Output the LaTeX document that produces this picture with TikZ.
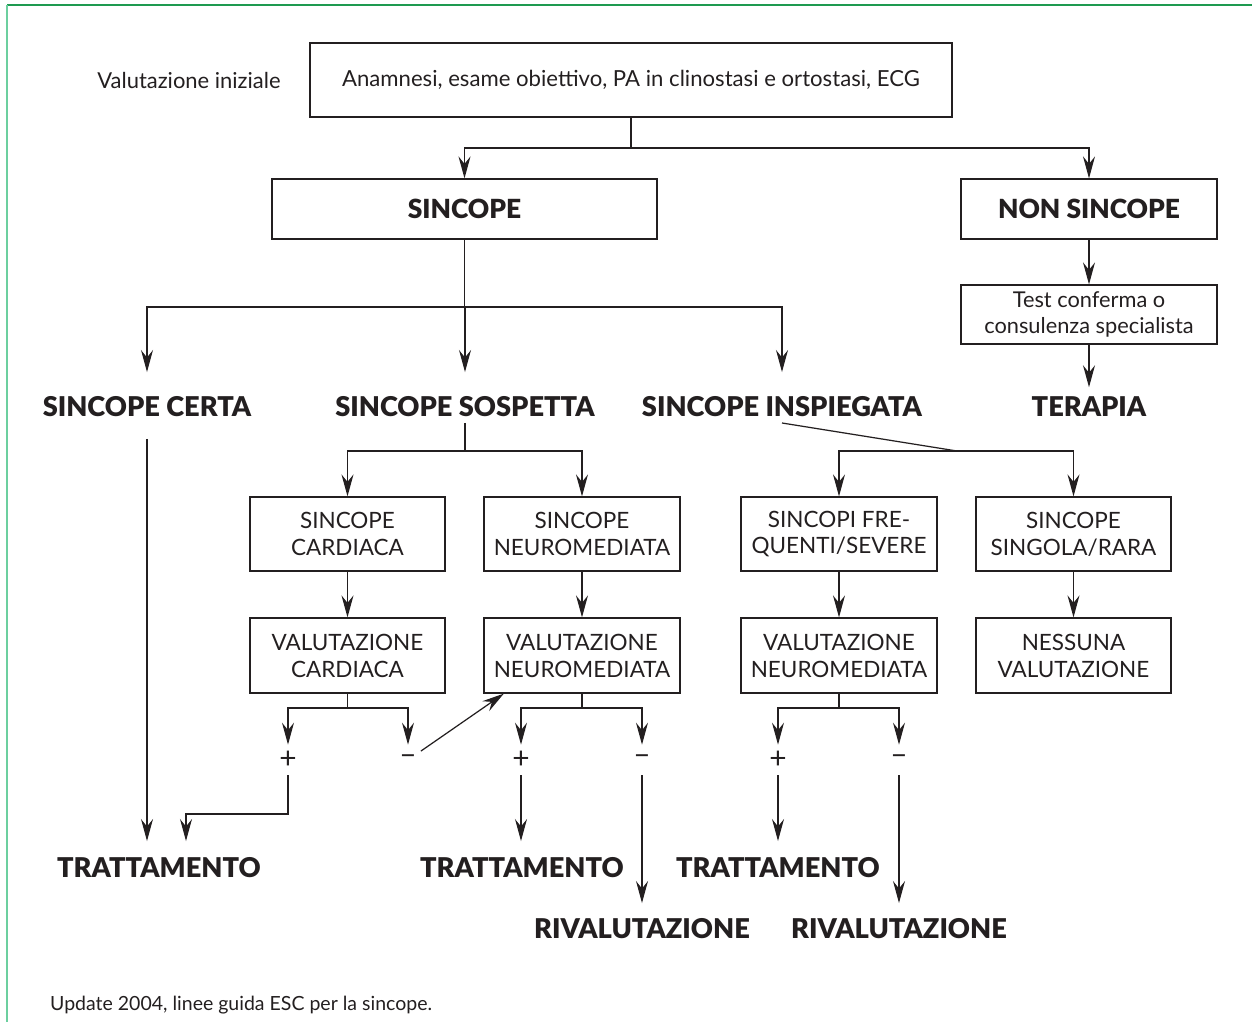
\documentclass[tikz,border=0pt]{standalone}
\usepackage{fontspec}
\setmainfont{Lato}[BoldFont={Lato Black}]
\definecolor{VerdeBordoESC}{HTML}{1E9A50}
\definecolor{VerdeChiaroESC}{HTML}{6CCF9F}
\definecolor{NeroESC}{HTML}{231F20}
\usetikzlibrary{arrows.meta}
\usetikzlibrary{positioning}
\tikzset{
	blocco/.style={draw=NeroESC, line width=0.7pt, align=center, inner sep=0pt, font=\fontsize{12.8}{15.3}\selectfont},
	bloccotitolo/.style={blocco, font=\fontsize{15}{17}\selectfont\bfseries},
	titolo/.style={inner xsep=0pt, inner ysep=0.11cm, font=\fontsize{15.5}{17}\selectfont\bfseries},
	segno/.style={inner sep=0pt, minimum width=0.5cm, minimum height=0.6cm, font=\fontsize{17}{19}\selectfont},
	linea/.style={line width=0.7pt, draw=NeroESC},
	freccia/.style={linea, -{Stealth[length=4.4mm,width=2.4mm,inset=1.5mm]}}
}
\begin{document}
\begin{tikzpicture}[x=0.02cm, y=-0.02cm, color=NeroESC]
	\useasboundingbox (0,0) rectangle (1252,1022);
	% cornice
	\draw[VerdeBordoESC, line width=1.1pt] (7,5) -- (1252,5);
	\draw[VerdeChiaroESC, line width=1.1pt] (7,5) -- (7,1022);
	%
	% valutazione iniziale
	\node[font=\fontsize{12.5}{14}\selectfont] at (189,80) (valin) {Valutazione iniziale};
	\node[blocco, minimum width=12.84cm, minimum height=1.48cm, font=\fontsize{12.6}{14}\selectfont] at (631,80) (anamnesi) {Anamnesi, esame obiettivo, PA in clinostasi e ortostasi, ECG};
	%
	\node[bloccotitolo, minimum width=7.7cm, minimum height=1.2cm] at (464.5,209) (sincope) {SINCOPE};
	\node[bloccotitolo, minimum width=5.12cm, minimum height=1.2cm] at (1089,209) (nonsincope) {NON SINCOPE};
	\node[blocco, minimum width=5.12cm, minimum height=1.18cm, font=\fontsize{12.4}{14.7}\selectfont] at (1089,314.5) (test) {Test conferma o\\consulenza specialista};
	%
	\node[titolo] at (147,407) (certa) {SINCOPE CERTA};
	\node[titolo] at (465,407) (sospetta) {SINCOPE SOSPETTA};
	\node[titolo] at (782,407) (inspiegata) {SINCOPE INSPIEGATA};
	\node[titolo] at (1089,407) (terapia) {TERAPIA};
	%
	% riquadri
	\node[blocco, minimum width=3.9cm, minimum height=1.48cm] at (347.5,534) (sinccard) {SINCOPE\\CARDIACA};
	\node[blocco, minimum width=3.92cm, minimum height=1.48cm] at (582,534) (sincneuro) {SINCOPE\\NEUROMEDIATA};
	\node[blocco, minimum width=3.92cm, minimum height=1.48cm] at (839,534) (frequenti) {SINCOPI FRE-\\QUENTI/SEVERE};
	\node[blocco, minimum width=3.9cm, minimum height=1.48cm] at (1073.5,534) (rara) {SINCOPE\\SINGOLA/RARA};
	\node[blocco, minimum width=3.9cm, minimum height=1.5cm] at (347.5,655.5) (valcard) {VALUTAZIONE\\CARDIACA};
	\node[blocco, minimum width=3.92cm, minimum height=1.5cm] at (582,655.5) (valneuro) {VALUTAZIONE\\NEUROMEDIATA};
	\node[blocco, minimum width=3.92cm, minimum height=1.5cm] at (839,655.5) (valneurob) {VALUTAZIONE\\NEUROMEDIATA};
	\node[blocco, minimum width=3.9cm, minimum height=1.5cm] at (1073.5,655.5) (nessuna) {NESSUNA\\VALUTAZIONE};
	%
	\node[segno] at (288,760) (piua) {+};
	\node[segno] at (408,760) (menoa) {--};
	\node[segno] at (521,760) (piub) {+};
	\node[segno] at (642,760) (menob) {--};
	\node[segno] at (778,760) (piuc) {+};
	\node[segno] at (899,760) (menoc) {--};
	%
	\node[titolo] at (159,868) (trattA) {TRATTAMENTO};
	\node[titolo] at (522,868) (trattB) {TRATTAMENTO};
	\node[titolo] at (778,868) (trattC) {TRATTAMENTO};
	\node[titolo] at (642,929) (rivalA) {RIVALUTAZIONE};
	\node[titolo] at (899,929) (rivalB) {RIVALUTAZIONE};
	%
	\node[anchor=west, font=\fontsize{11.1}{13}\selectfont] at (44,1005) (fonte) {Update 2004, linee guida ESC per la sincope.};
	%
	% connessioni
	\coordinate (bivioA) at (631,148);
	\draw[linea] (anamnesi.south) -- (bivioA);
	\draw[freccia] (bivioA) -| (sincope.north);
	\draw[freccia] (bivioA) -| (nonsincope.north);
	%
	\coordinate (bivioB) at (464.5,307);
	\draw[linea] (sincope.south) -- (bivioB);
	\draw[freccia, shorten >=0.38cm] (bivioB) -| (certa.north);
	\draw[freccia, shorten >=0.38cm] (bivioB) -| (sospetta.north);
	\draw[freccia, shorten >=0.38cm] (bivioB) -| (inspiegata.north);
	%
	\draw[freccia] (nonsincope) -- (test);
	\draw[freccia, shorten >=0.08cm] (test) -- (terapia);
	%
	\coordinate (bivioC) at (465,451);
	\draw[linea] (sospetta.south) -- (bivioC);
	\draw[freccia] (bivioC) -| (sinccard.north);
	\draw[freccia] (bivioC) -| (sincneuro.north);
	%
	\coordinate (bivioD) at (957,451);
	\draw[linea] (inspiegata.south) -- (bivioD);
	\draw[freccia] (bivioD) -| (frequenti.north);
	\draw[freccia] (bivioD) -| (rara.north);
	%
	\draw[freccia] (sinccard) -- (valcard);
	\draw[freccia] (sincneuro) -- (valneuro);
	\draw[freccia] (frequenti) -- (valneurob);
	\draw[freccia] (rara) -- (nessuna);
	%
	\coordinate (bivioE) at (347.5,708);
	\coordinate (bivioF) at (582,708);
	\coordinate (bivioG) at (839,708);
	\draw[linea] (valcard) -- (bivioE);
	\draw[freccia] (bivioE) -| (piua);
	\draw[freccia] (bivioE) -| (menoa);
	\draw[linea] (valneuro) -- (bivioF);
	\draw[freccia] (bivioF) -| (piub);
	\draw[freccia] (bivioF) -| (menob);
	\draw[linea] (valneurob) -- (bivioG);
	\draw[freccia] (bivioG) -| (piuc);
	\draw[freccia] (bivioG) -| (menoc);
	%
	\draw[freccia] (menoa) -- (valneuro.206);
	%
	\coordinate (gomito) at (186,814);
	\draw[freccia, shorten >=0.22cm] (piua) |- (gomito) -- (gomito |- trattA.north);
	\draw[freccia, shorten <=0.32cm, shorten >=0.22cm] (certa.south) -- (certa.south |- trattA.north);
	\draw[freccia, shorten >=0.22cm] (piub) -- (piub |- trattB.north);
	\draw[freccia, shorten >=0.22cm] (piuc) -- (piuc |- trattC.north);
	\draw[freccia, shorten >=0.2cm] (menob) -- (menob |- rivalA.north);
	\draw[freccia, shorten >=0.2cm] (menoc) -- (menoc |- rivalB.north);
\end{tikzpicture}
\end{document}
